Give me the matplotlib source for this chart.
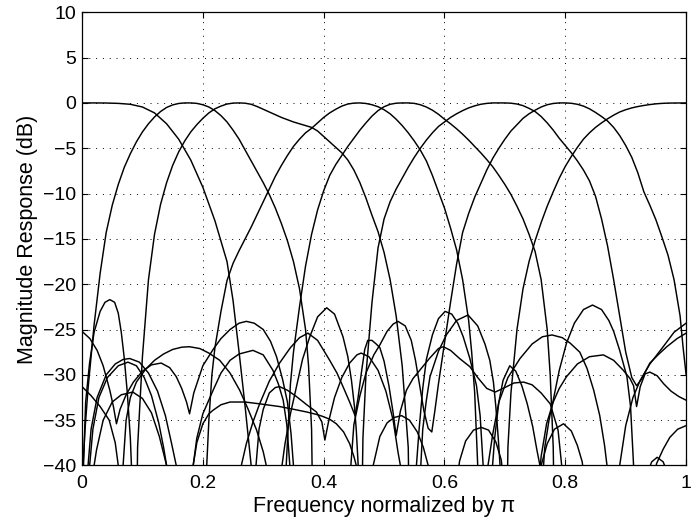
import matplotlib
matplotlib.use("Agg")
import matplotlib.pyplot as plt

plt.rcParams['font.family'] = ['Liberation Sans', 'DejaVu Sans']

# (frequency / pi, magnitude in dB)
# passband lobes of the 8 channels
lobe_0 = [(0, 0), (.02, 0), (.04, -.01), (.06, -.05), (.08, -.15), (.10, -.45), (.12, -1.1), (.14, -2.3),
          (.16, -4.0), (.18, -6.3), (.20, -9.3), (.22, -13.0), (.24, -17.5), (.25, -21.8), (.26, -27.5),
          (.27, -33.5), (.28, -40), (.285, -60)]
lobe_1 = [(0, -42), (.005, -36), (.01, -31.5), (.02, -24.5), (.03, -18.8), (.04, -14.3), (.05, -11.3),
          (.06, -9.0), (.07, -7.1), (.08, -5.6), (.09, -4.3), (.10, -3.2), (.11, -2.3), (.12, -1.55),
          (.13, -.95), (.14, -.5), (.15, -.22), (.16, -.06), (.17, 0), (.18, 0), (.19, -.05), (.20, -.2),
          (.21, -.45), (.22, -.85), (.23, -1.4), (.24, -2.1), (.25, -3.0), (.26, -4.0), (.27, -5.2),
          (.28, -6.4), (.29, -7.6), (.30, -8.8), (.31, -10.1), (.32, -11.6), (.33, -13.3), (.34, -15.2),
          (.35, -17.5), (.36, -20.5), (.37, -25), (.375, -29), (.38, -36), (.385, -60)]
lobe_2 = [(.088, -60), (.092, -38), (.10, -28), (.11, -19.5), (.12, -14.5), (.13, -11.2), (.14, -8.8),
          (.15, -6.9), (.16, -5.4), (.17, -4.2), (.18, -3.2), (.19, -2.4), (.20, -1.7), (.21, -1.1),
          (.22, -.65), (.23, -.35), (.24, -.12), (.25, -.02), (.26, 0), (.27, -.03), (.28, -.15), (.29, -.4),
          (.30, -.7), (.31, -1.0), (.32, -1.3), (.33, -1.6), (.34, -1.85), (.35, -2.1), (.36, -2.3),
          (.37, -2.5), (.38, -2.7), (.39, -3.1), (.40, -3.7), (.41, -4.3), (.42, -4.9), (.43, -5.5),
          (.44, -6.3), (.45, -7.4), (.46, -8.8), (.47, -10.5), (.48, -12.4), (.49, -14.2), (.50, -16.5),
          (.51, -19.5), (.52, -23.5), (.53, -29), (.54, -38), (.545, -60)]
lobe_3 = [(.20, -60), (.205, -42), (.21, -35), (.215, -30), (.22, -27), (.23, -23), (.24, -19.6), (.25, -17.7),
          (.26, -16.3), (.27, -15.0), (.28, -13.7), (.29, -12.3), (.30, -10.9), (.31, -9.5), (.32, -8.1),
          (.33, -6.9), (.34, -5.8), (.35, -4.8), (.36, -4.0), (.37, -3.3), (.38, -2.8), (.39, -2.2),
          (.40, -1.6), (.41, -1.1), (.42, -.7), (.43, -.35), (.44, -.12), (.45, -.02), (.46, 0), (.47, -.06),
          (.48, -.2), (.49, -.42), (.50, -.75), (.51, -1.2), (.52, -1.8), (.53, -2.5), (.54, -3.3),
          (.55, -4.2), (.56, -5.2), (.57, -6.4), (.58, -8.0), (.59, -9.8), (.60, -11.6), (.61, -13.8),
          (.62, -16.2), (.63, -19.5), (.64, -24), (.645, -27.5), (.65, -32), (.655, -40), (.66, -60)]
lobe_4 = [(.333, -60), (.338, -40), (.345, -31), (.35, -27.5), (.36, -22.5), (.37, -18), (.38, -14.5),
          (.39, -11.8), (.40, -9.7), (.41, -8.0), (.42, -6.8), (.43, -5.8), (.44, -4.8), (.45, -3.9),
          (.46, -3.0), (.47, -2.2), (.48, -1.45), (.49, -.85), (.50, -.42), (.51, -.15), (.52, -.03),
          (.53, 0), (.54, 0), (.55, -.05), (.56, -.2), (.57, -.45), (.58, -.8), (.59, -1.25), (.60, -1.8),
          (.61, -2.3), (.62, -2.85), (.63, -3.45), (.64, -4.1), (.65, -4.8), (.66, -5.5), (.67, -6.25),
          (.68, -7.05), (.69, -8.0), (.70, -9.0), (.71, -10.1), (.72, -11.4), (.73, -12.8), (.74, -14.5),
          (.75, -16.4), (.76, -19.5), (.77, -25), (.775, -30), (.78, -38), (.785, -60)]
lobe_5 = [(.46, -60), (.465, -37), (.47, -30), (.48, -22), (.49, -16), (.50, -12.8), (.51, -10.9), (.52, -9.5),
          (.53, -8.3), (.54, -7.1), (.55, -6.0), (.56, -5.0), (.57, -4.1), (.58, -3.3), (.59, -2.6),
          (.60, -2.1), (.61, -1.6), (.62, -1.2), (.63, -.85), (.64, -.55), (.65, -.32), (.66, -.15),
          (.67, -.05), (.68, 0), (.69, 0), (.70, 0), (.71, -.03), (.72, -.12), (.73, -.3), (.74, -.6),
          (.75, -.95), (.76, -1.5), (.77, -2.2), (.78, -3.0), (.79, -3.9), (.80, -4.7), (.81, -5.5),
          (.82, -6.4), (.83, -7.4), (.84, -8.6), (.85, -10.3), (.86, -12.8), (.87, -15.8), (.88, -19.5),
          (.89, -23.5), (.90, -27.5), (.91, -30.3), (.918, -31.2), (.926, -30.5), (.94, -28.7),
          (.955, -27.7), (.968, -26.9), (.985, -26), (1.0, -25.4)]
lobe_6 = [(.44, -60), (.445, -40), (.45, -35.5), (.46, -32.3), (.47, -29.8), (.483, -27.8), (.493, -26.7),
          (.505, -25.2), (.515, -24.4), (.523, -24.1), (.535, -24.6), (.545, -26.2), (.552, -28.4),
          (.559, -31.2), (.566, -34), (.573, -35.9), (.579, -36.3), (.584, -34), (.59, -31), (.60, -26.5),
          (.61, -22), (.62, -17.8), (.63, -14.3), (.64, -12.2), (.65, -10.4), (.66, -8.9), (.67, -7.4),
          (.68, -6.1), (.69, -5.0), (.70, -4.0), (.71, -3.1), (.72, -2.4), (.73, -1.7), (.74, -1.2),
          (.75, -.8), (.76, -.45), (.77, -.2), (.78, -.06), (.79, 0), (.80, 0), (.81, -.04), (.82, -.15),
          (.83, -.35), (.84, -.65), (.85, -1.05), (.86, -1.5), (.87, -2.0), (.88, -2.7), (.89, -3.6),
          (.90, -4.7), (.91, -6.0), (.92, -7.7), (.93, -9.8), (.94, -11.3), (.95, -12.9), (.96, -14.8),
          (.97, -16.8), (.98, -19.5), (.99, -23.5), (.995, -27), (1.0, -30)]
lobe_7 = [(.70, -60), (.705, -38), (.71, -32), (.72, -25), (.73, -20.5), (.74, -17.5), (.75, -15.2),
          (.76, -13.2), (.77, -11.4), (.78, -9.8), (.79, -8.3), (.80, -7.0), (.81, -5.9), (.82, -4.9),
          (.83, -4.0), (.84, -3.3), (.85, -2.7), (.86, -2.2), (.87, -1.75), (.88, -1.35), (.89, -1.0),
          (.90, -.75), (.91, -.55), (.92, -.4), (.93, -.28), (.94, -.18), (.95, -.1), (.96, -.05),
          (.97, -.02), (.98, -.01), (1.0, 0)]

# stopband ripples
side_a = [(0, -45), (.006, -33), (.0125, -28.7), (.02, -25.3), (.03, -23.0), (.038, -22.0), (.046, -21.7),
          (.054, -22.0), (.06, -23.2), (.065, -25.3), (.07, -28.2), (.075, -32), (.08, -37), (.083, -42),
          (.086, -60)]
side_b = [(0, -25.2), (.013, -26), (.025, -27.3), (.035, -29), (.046, -31.7), (.052, -33.5), (.057, -35.4),
          (.063, -33.8), (.073, -32.2), (.085, -30.8), (.10, -29.6), (.115, -28.9), (.131, -28.7),
          (.145, -29.2), (.156, -30.2), (.165, -31.5), (.173, -33), (.178, -34.3), (.185, -32), (.20, -29),
          (.217, -27.2), (.23, -26), (.245, -25), (.26, -24.3), (.272, -24.1), (.285, -24.3), (.30, -25),
          (.312, -26.3), (.322, -28), (.332, -30.5), (.34, -33), (.346, -36.5), (.35, -40), (.353, -60)]
side_c = [(0, -31.3), (.015, -32.3), (.03, -33.5), (.045, -35), (.055, -37.5), (.06, -40), (.064, -60)]
side_e = [(.017, -60), (.02, -40), (.024, -38.3), (.035, -35), (.05, -33), (.065, -32.2), (.084, -31.9),
          (.10, -32.6), (.115, -34.2), (.128, -36.8), (.14, -40), (.143, -60)]
side_d1 = [(.006, -60), (.01, -40), (.015, -36), (.025, -32.5), (.04, -30), (.055, -28.8), (.068, -28.3),
           (.079, -28.2), (.095, -28.6), (.11, -29.8), (.125, -31.8), (.138, -34.5), (.148, -37.5),
           (.156, -40), (.16, -60)]
side_d2 = [(.009, -60), (.0126, -40), (.018, -36), (.028, -32.5), (.042, -30.3), (.06, -29), (.076, -28.6),
           (.09, -29), (.103, -30.3), (.115, -32.3), (.127, -35.3), (.135, -38), (.14, -40), (.143, -60)]
side_f = [(.064, -60), (.068, -40), (.073, -35), (.08, -32.5), (.09, -30.8), (.105, -29.4), (.12, -28.4),
          (.135, -27.7), (.15, -27.2), (.165, -26.95), (.178, -26.9), (.195, -27.1), (.21, -27.6),
          (.228, -28.4), (.245, -29.8), (.261, -31.7), (.275, -33.8), (.289, -36.1), (.30, -38.5),
          (.305, -40), (.308, -60)]
side_g = [(.181, -60), (.184, -40), (.19, -37), (.20, -34.3), (.217, -31.7), (.23, -29.8), (.245, -28.4),
          (.26, -27.7), (.283, -27.3), (.30, -27.8), (.316, -29.5), (.325, -31), (.333, -32.8),
          (.339, -35.5), (.344, -40), (.347, -60)]
side_h = [(.181, -60), (.184, -40), (.19, -37.5), (.20, -35.4), (.21, -34.3), (.217, -33.9), (.23, -33.3),
          (.245, -33.0), (.27, -33.0), (.294, -33.2), (.327, -33.5), (.35, -33.8), (.372, -34.1),
          (.39, -34.4), (.399, -34.6), (.41, -34.9), (.421, -35.4), (.433, -36.3), (.443, -37.6),
          (.45, -39), (.454, -40), (.457, -60)]
side_i = [(.285, -60), (.288, -40), (.293, -36), (.30, -33.8), (.31, -32), (.32, -31.4), (.327, -31.3),
          (.34, -31.7), (.355, -32.4), (.372, -33.3), (.388, -34.1), (.397, -35.2), (.402, -37.2),
          (.408, -35.2), (.418, -32.5), (.43, -30.3), (.443, -28.7), (.455, -27.8), (.462, -27.6),
          (.475, -28), (.49, -29.5), (.503, -31.8), (.515, -35), (.523, -38.5), (.527, -40), (.53, -60)]
side_k = [(.258, -60), (.262, -40.5), (.272, -37.6), (.283, -35.2), (.294, -33.2), (.31, -30.7),
          (.327, -28.7), (.345, -27), (.36, -25.9), (.374, -25.4), (.39, -26.2), (.41, -28.4),
          (.422, -29.8), (.432, -31.3), (.443, -33), (.452, -34.5), (.457, -32.5), (.463, -29.5),
          (.468, -27.2), (.473, -26.2), (.48, -26.2), (.487, -26.6), (.493, -27), (.50, -28.5),
          (.508, -31.2), (.515, -34.2), (.52, -36.7), (.527, -34), (.537, -31.7), (.548, -30.4),
          (.559, -29.5), (.575, -28.2), (.59, -27.1), (.598, -26.9), (.61, -27.3), (.625, -28.2),
          (.642, -29.1), (.655, -30.3), (.67, -31.5), (.684, -31.9), (.70, -31.4), (.715, -30.9),
          (.731, -30.8), (.745, -31.1), (.76, -32), (.775, -33.2), (.788, -36.1), (.794, -40), (.797, -60)]
side_j = [(.327, -60), (.33, -40.5), (.336, -37.6), (.345, -34.3), (.355, -31.3), (.365, -28.3),
          (.377, -25.8), (.39, -23.6), (.405, -22.6), (.418, -23.3), (.432, -25.8), (.44, -28),
          (.446, -30.6), (.451, -33.5), (.454, -36.1), (.457, -39.8), (.46, -60)]
side_r = [(.55, -60), (.553, -40.5), (.558, -36), (.564, -31.5), (.57, -28.3), (.58, -25.6), (.59, -23.8),
          (.601, -23.0), (.612, -23.3), (.622, -24.3), (.631, -25.8), (.642, -28.2), (.653, -31.2),
          (.659, -34.5), (.664, -40), (.667, -60)]
side_s = [(.557, -60), (.56, -41), (.564, -36), (.57, -32.8), (.576, -30.2), (.59, -27.4), (.603, -25.6),
          (.62, -24), (.639, -23.4), (.655, -24.6), (.667, -26.6), (.675, -28.4), (.681, -30.8),
          (.685, -33.5), (.689, -37), (.692, -40), (.695, -60)]
side_u = [(.676, -60), (.679, -40.5), (.683, -37), (.69, -33), (.697, -30.6), (.708, -29.0), (.718, -29.6),
          (.728, -31.2), (.737, -33.2), (.746, -35.7), (.753, -38.3), (.758, -40), (.761, -60)]
side_aa = [(.615, -60), (.62, -42), (.625, -39.5), (.635, -37.3), (.648, -36.1), (.661, -35.8),
           (.673, -36.1), (.685, -37.4), (.694, -39.4), (.698, -42), (.703, -60)]
side_bb = [(.474, -60), (.478, -42), (.482, -40), (.493, -36.8), (.505, -35.3), (.517, -34.7),
           (.529, -34.5), (.542, -35), (.555, -36.3), (.565, -38), (.573, -40), (.577, -60)]
side_cc = [(.75, -60), (.755, -42), (.76, -40), (.77, -37.6), (.782, -36), (.797, -35.4), (.81, -36.2),
           (.82, -37.8), (.828, -39.6), (.832, -42), (.836, -60)]
side_v = [(.758, -60), (.762, -42), (.766, -38), (.773, -35), (.78, -32.8), (.79, -29.5), (.802, -26.5),
          (.815, -24.3), (.83, -22.8), (.845, -22.3), (.86, -22.8), (.872, -24), (.88, -25.2), (.89, -27.3),
          (.902, -30.2), (.908, -33.5), (.913, -40), (.916, -60)]
side_w = [(.668, -60), (.672, -40), (.68, -36.5), (.69, -33), (.705, -30.3), (.725, -28.2), (.745, -26.6),
          (.762, -25.8), (.778, -25.6), (.795, -25.9), (.808, -26.5), (.824, -27.5), (.836, -29.3),
          (.847, -31.7), (.857, -34.5), (.865, -37.8), (.869, -40), (.872, -60)]
side_x = [(.752, -60), (.756, -42), (.76, -39), (.769, -35.4), (.78, -33), (.79, -31.5), (.802, -30.2),
          (.82, -28.8), (.84, -28), (.863, -27.8), (.88, -28.4), (.896, -29.5), (.907, -30.4), (.913, -31.2),
          (.918, -33.5), (.924, -31.3), (.932, -29.9), (.94, -29.7), (.952, -30.1), (.963, -31),
          (.975, -31.8), (.988, -32.4), (1.0, -32.8)]
side_y = [(.886, -60), (.89, -40), (.90, -35.6), (.912, -32.5), (.924, -30.6), (.94, -28.8), (.962, -26.9),
          (.98, -25.3), (1.0, -24.3)]
side_z = [(.925, -60), (.928, -45), (.935, -41), (.943, -39.6), (.952, -39.1), (.962, -39.6), (.97, -41),
          (.976, -45), (.98, -60)]
side_z2 = [(.94, -60), (.945, -42), (.951, -39.8), (.962, -38.2), (.973, -36.9), (.986, -36), (1.0, -35.6)]

curves = [lobe_0, lobe_1, lobe_2, lobe_3, lobe_4, lobe_5, lobe_6, lobe_7,
          side_a, side_b, side_c, side_e, side_d1, side_d2, side_f, side_g, side_h, side_i,
          side_k, side_j, side_r, side_s, side_u, side_aa, side_bb, side_cc, side_v, side_w,
          side_x, side_y, side_z, side_z2]

x_ticks = [0, 0.2, 0.4, 0.6, 0.8, 1]
x_labels = ['0', '0.2', '0.4', '0.6', '0.8', '1']
y_ticks = [-40, -35, -30, -25, -20, -15, -10, -5, 0, 5, 10]

fig = plt.figure(figsize=(6.98, 5.23), dpi=100)
ax = fig.add_axes([0.1175, 0.110, 0.8655, 0.8665])

for c in curves:
    f = [p[0] for p in c]
    m = [p[1] for p in c]
    ax.plot(f, m, color='k', lw=1.05)

ax.set_xlim(0, 1)
ax.set_ylim(-40, 10)
ax.set_xticks(x_ticks)
ax.set_xticklabels(x_labels)
ax.set_yticks(y_ticks)
ax.grid(True, linestyle=(0, (1, 6)), color='k', linewidth=0.7)
ax.tick_params(direction='in', top=True, right=True, length=4, width=0.8, labelsize=14, pad=4)
ax.tick_params(axis='x', pad=7)
for s in ax.spines.values():
    s.set_linewidth(0.9)

ax.set_xlabel('Frequency normalized by \u03c0', fontsize=15.5, labelpad=3)
ax.set_ylabel('Magnitude Response (dB)', fontsize=15.5, labelpad=4)

fig.savefig('out.png', dpi=100)
